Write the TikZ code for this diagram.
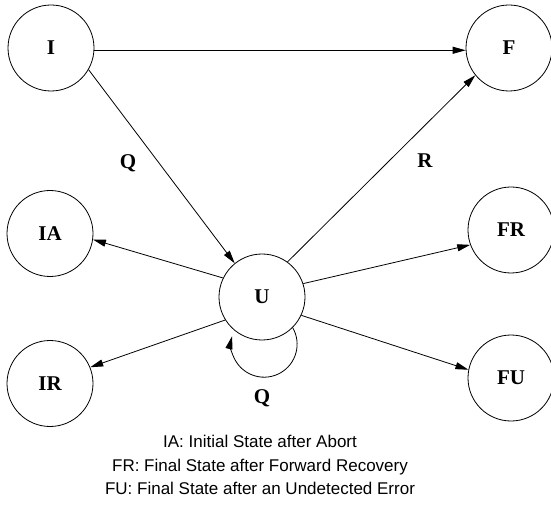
\documentclass[tikz,border=0pt]{standalone}
\usepackage{fontspec}
\setmainfont{Liberation Serif}
\setsansfont{Liberation Sans}
\usetikzlibrary{arrows.meta}

\begin{document}
\begin{tikzpicture}[x=1pt,y=1pt,
  state/.style={draw,circle,minimum size=86pt,inner sep=0pt,line width=0.8pt,
    font=\fontsize{21}{21}\selectfont\bfseries},
  lbl/.style={font=\fontsize{21}{21}\selectfont\bfseries},
  arr/.style={-{Triangle[length=13pt,width=7pt]},line width=0.8pt}]
\useasboundingbox (0,0) rectangle (551,517);
% states
\node[state] (I) at (51,469) {I};
\node[state] (F) at (509,469) {F};
\node[state] (IA) at (50,283.5) {IA};
\node[state] (FR) at (511,287) {FR};
\node[state] (IR) at (50,133.5) {IR};
\node[state] (FU) at (511,139) {FU};
\node[state] (U) at (262,220) {U};
% transitions
\draw[arr] (I.-3) -- (F.183);
\draw[arr] (I.-30) -- (U.129);
\draw[arr] (U.54) -- (F.219);
\draw[arr] (U.154) -- (IA.-8);
\draw[arr] (U.18) -- (FR.200);
\draw[arr] (U.212) -- (IR.22);
\draw[arr] (U.-25) -- (FU.169);
\draw[arr] (U.-45) arc[start angle=30,end angle=-194,radius=33];
\node[lbl] (q1) at (128,354) {Q};
\node[lbl] (r) at (425,356) {R};
\node[lbl] (q2) at (262,119) {Q};
% key
\node[font=\sffamily\fontsize{17}{23.5}\selectfont,align=center] (key) at (260,52)
  {IA: Initial State after Abort\\
   FR: Final State after Forward Recovery\\
   FU: Final State after an Undetected Error};
\end{tikzpicture}
\end{document}
